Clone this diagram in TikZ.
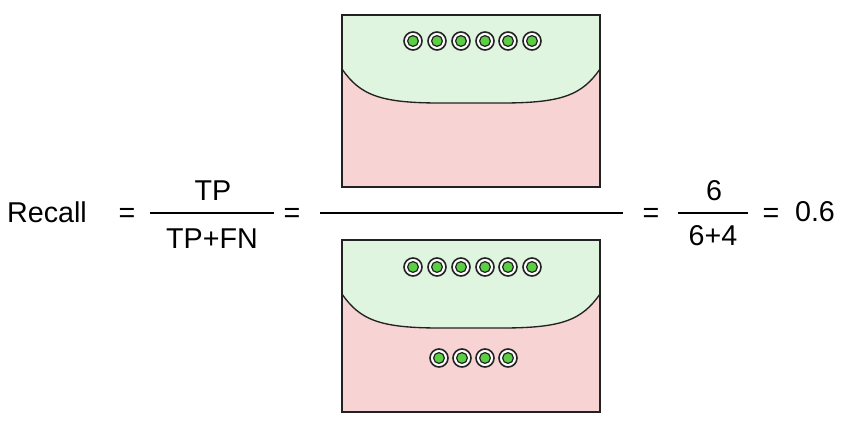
\documentclass[tikz,border=0pt]{standalone}
\usepackage{fontspec}
\setmainfont{Liberation Sans}
\definecolor{tpgreen}{HTML}{DFF5DF}
\definecolor{fnred}{HTML}{F8D3D3}
\definecolor{dotgreen}{HTML}{5BCF44}
\definecolor{edgegray}{HTML}{222222}

\begin{document}
\begin{tikzpicture}[x=0.75pt,y=-0.75pt,font=\fontsize{21.5}{25}\selectfont,inner sep=0pt]
  \useasboundingbox (0,0) rectangle (849,424);

  % --- the two boxes (positives over negatives) ---
  \foreach \yo in {0,225} {
    \fill[fnred] (342,15+\yo) rectangle (600,187+\yo);
    \fill[tpgreen] (342,15+\yo) -- (342,69+\yo)
      .. controls (360,95+\yo) and (380,103+\yo) .. (440,103+\yo)
      -- (502,103+\yo)
      .. controls (562,103+\yo) and (582,95+\yo) .. (600,69+\yo)
      -- (600,15+\yo) -- cycle;
    \draw[edgegray,line width=1pt] (342,69+\yo)
      .. controls (360,95+\yo) and (380,103+\yo) .. (440,103+\yo)
      -- (502,103+\yo)
      .. controls (562,103+\yo) and (582,95+\yo) .. (600,69+\yo);
    \draw[edgegray,line width=1.1pt] (342,15+\yo) rectangle (600,187+\yo);
  }

  % --- true positives (both boxes) ---
  \foreach \yo in {0,226} {
    \foreach \x in {413,437,461,485,508,532} {
      \draw[edgegray,line width=1.2pt,fill=white] (\x,41+\yo) circle (9);
      \draw[edgegray,line width=0.9pt,fill=dotgreen] (\x,41+\yo) circle (5.4);
    }
  }

  % --- false negatives ---
  \foreach \x in {439,462,485,508} {
    \draw[edgegray,line width=1.2pt,fill=white] (\x,358) circle (9);
    \draw[edgegray,line width=0.9pt,fill=dotgreen] (\x,358) circle (5.4);
  }

  % --- equation ---
  \node (recall) at (47,212) {Recall};
  \node (eqa) at (127,215) {=};
  \node (tp) at (213,191) {TP};
  \node (tpfn) at (212,239) {TP+FN};
  \draw[line width=0.8pt] (150,213) -- (274,213);
  \node (eqb) at (292,215) {=};
  \draw[line width=0.8pt] (320,213) -- (623,213);
  \node (eqc) at (651,215) {=};
  \node (six) at (714,191) {6};
  \node (sixfour) at (713,236) {6+4};
  \draw[line width=0.8pt] (678,213) -- (748,213);
  \node (eqd) at (771,215) {=};
  \node (result) at (815,212) {0.6};

\end{tikzpicture}
\end{document}
